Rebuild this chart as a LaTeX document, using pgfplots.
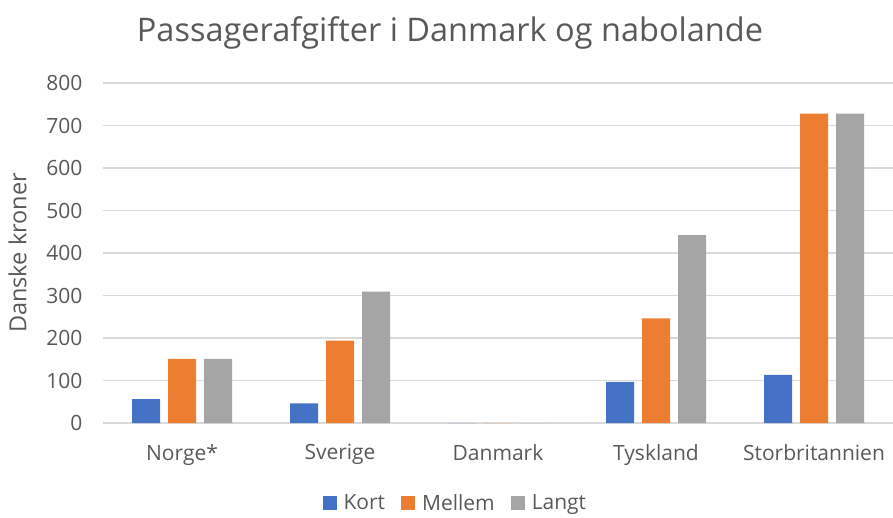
\documentclass[border=0pt]{standalone}
\usepackage{fontspec}
\setmainfont{Open Sans}
\usepackage{pgfplots}
\pgfplotsset{compat=1.18}
\definecolor{cKort}{HTML}{4472C4}
\definecolor{cMellem}{HTML}{ED7D31}
\definecolor{cLangt}{HTML}{A5A5A5}
\definecolor{gridc}{HTML}{D9D9D9}
\definecolor{txt}{HTML}{595959}
\begin{document}
\begin{tikzpicture}
\begin{axis}[
  at={(103pt,94pt)}, anchor=south west,
  scale only axis, width=790pt, height=340pt,
  ybar=8pt, bar width=28pt,
  xmin=-0.5, xmax=4.5, ymin=0, ymax=800,
  xtick={0,1,2,3,4},
  xticklabels={Norge*,Sverige,Danmark,Tyskland,Storbritannien},
  ytick={0,100,...,800},
  ymajorgrids, grid style={draw=gridc, line width=1.2pt},
  axis line style={draw=none},
  major tick length=0pt,
  tick label style={font=\fontsize{21}{25}\selectfont, text=txt},
  /pgf/number format/assume math mode=true,
  xticklabel style={yshift=-18pt},
  yticklabel style={xshift=-17pt},
  ylabel={Danske kroner},
  ylabel style={at={(axis description cs:-0.108,0.5)}, anchor=center,
    font=\fontsize{23.5}{28}\selectfont, text=txt},
  legend columns=3,
  legend style={at={(axis description cs:0.446,-0.236)}, anchor=center,
    draw=none, fill=none, inner sep=0pt, font=\fontsize{21}{25}\selectfont, text=txt,
    /tikz/every odd column/.append style={column sep=5pt},
    /tikz/every even column/.append style={column sep=14pt}},
  legend image code/.code={\fill[#1] (0pt,-7pt) rectangle (14pt,7pt);},
]
\addplot[fill=cKort, draw=none] coordinates {(0,56) (1,46) (2,0) (3,97) (4,113)};
\addlegendentry{Kort}
\addplot[fill=cMellem, draw=none] coordinates {(0,151) (1,194) (2,0) (3,246) (4,728)};
\addlegendentry{Mellem}
\addplot[fill=cLangt, draw=none] coordinates {(0,151) (1,309) (2,0) (3,442) (4,728)};
\addlegendentry{Langt}
\end{axis}
\node[font=\fontsize{32.5}{39}\selectfont, text=txt] at (450pt,484pt) {Passagerafgifter i Danmark og nabolande};
\pgfresetboundingbox
\useasboundingbox (0,0) rectangle (893pt,517pt);
\end{tikzpicture}
\end{document}
